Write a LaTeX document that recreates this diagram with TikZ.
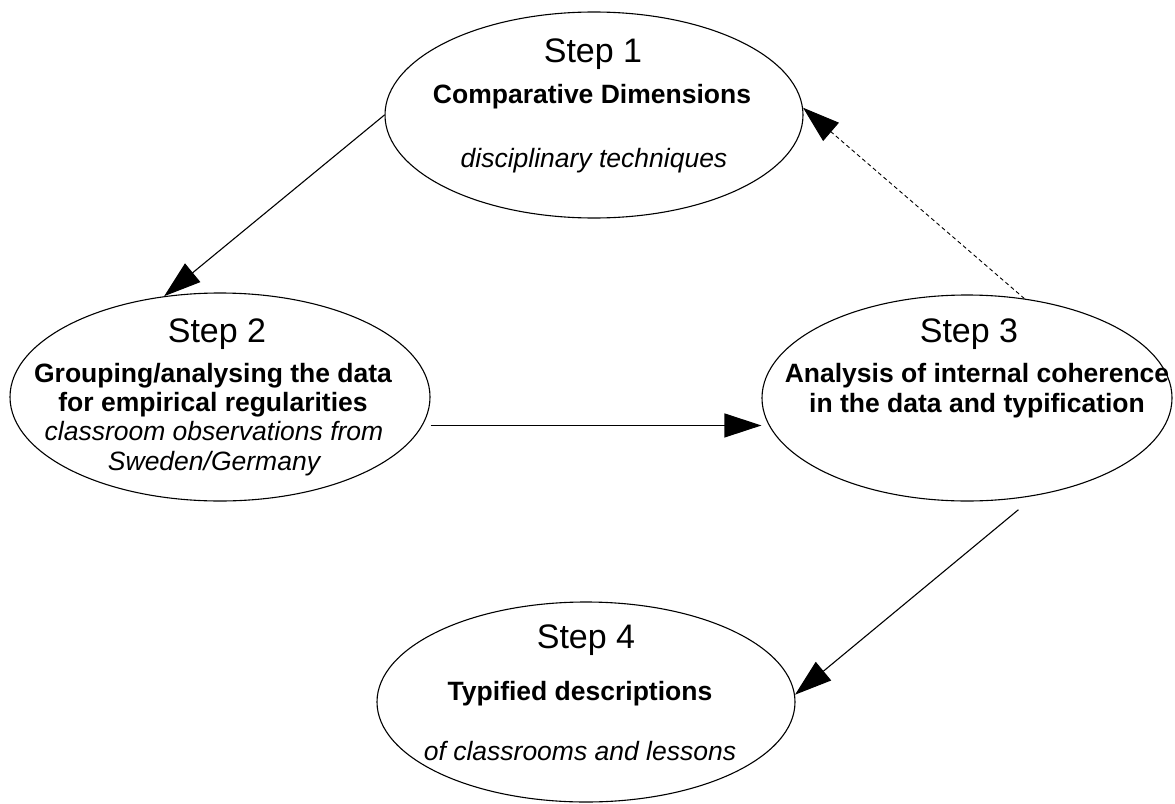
\documentclass[tikz,border=0pt]{standalone}
\usepackage{fontspec}
\setmainfont{Liberation Sans}
\usetikzlibrary{arrows.meta, shapes.geometric}

\begin{document}
\begin{tikzpicture}[x=1pt, y=-1pt,
    stepell/.style={draw=black, line width=1.1pt, ellipse, inner sep=0pt},
    steptitle/.style={anchor=base, font=\fontsize{34}{40}\selectfont},
    stepbold/.style={anchor=base, align=center, font=\fontsize{26.5}{29.3}\selectfont\bfseries},
    stepital/.style={anchor=base, align=center, font=\fontsize{26.5}{29.3}\selectfont\itshape},
    flow/.style={line width=1.1pt, -{Triangle[length=37pt, width=24pt]}}]
          \useasboundingbox (0,0) rectangle (1175,803);

          % Step 1
          \node[stepell, minimum width=418pt, minimum height=206pt] (s1) at (594,115) {};
          \node[steptitle] (h1) at (593,62) {Step 1};
          \node[stepbold] (b1) at (592,103) {Comparative Dimensions};
          \node[stepital] (i1) at (594,167) {disciplinary techniques};

          % Step 2
          \node[stepell, minimum width=420pt, minimum height=208pt] (s2) at (220,397) {};
          \node[steptitle] (h2) at (217,342) {Step 2};
          \node[stepbold] (b2) at (213,411.3) {Grouping/analysing the data\\for empirical regularities};
          \node[stepital] (i2) at (214,470) {classroom observations from\\Sweden/Germany};

          % Step 3
          \node[stepell, minimum width=410pt, minimum height=206pt] (s3) at (967,398) {};
          \node[steptitle] (h3) at (969,342) {Step 3};
          \node[stepbold] (b3) at (977,412) {Analysis of internal coherence\\in the data and typification};

          % Step 4
          \node[stepell, minimum width=418pt, minimum height=200pt] (s4) at (586,702) {};
          \node[steptitle] (h4) at (586,648) {Step 4};
          \node[stepbold] (b4) at (580,700) {Typified descriptions};
          \node[stepital] (i4) at (580,760) {of classrooms and lessons};

          % Pfeile
          \draw[flow] (s1.west) -- (s2.119);
          \draw[flow, shorten <=8pt] (s2.-8.5) -- (s2.-8.5 -| s3.west);
          \draw[flow, shorten <=22pt] (s3.-55) -- (s4.2);
          \draw[flow, line width=0.9pt, dash pattern=on 4pt off 3pt] (s3.60) -- (s1.2);
        \end{tikzpicture}
\end{document}
